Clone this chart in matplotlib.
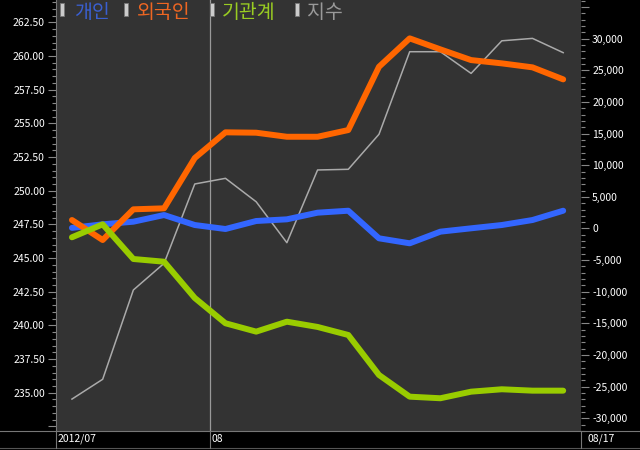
import matplotlib
matplotlib.use("Agg")
import matplotlib.pyplot as plt
import matplotlib.patches as mpatches
from matplotlib.ticker import MultipleLocator, FuncFormatter

plt.rcParams['font.family'] = ['Noto Sans CJK KR', 'DejaVu Sans']

# 2012/07/25 ~ 2012/08/17 (trading days)
n_days = 17
kospi = [234.53, 236.0, 242.63, 244.61, 250.5, 250.92, 249.18, 246.14, 251.54,
         251.59, 254.19, 260.32, 260.32, 258.71, 261.13, 261.31, 260.25]
retail = [100, 660, 1075, 2130, 550, -80, 1185, 1450, 2500,
          2810, -1550, -2340, -500, 30, 550, 1340, 2810]
foreign = [1340, -1820, 3030, 3190, 11140, 15200, 15140, 14500, 14500,
           15560, 25560, 30050, 28310, 26620, 26100, 25470, 23570]
inst = [-1390, 660, -4820, -5250, -10980, -14980, -16300, -14730, -15560,
        -16830, -23150, -26580, -26830, -25790, -25410, -25630, -25630]

legend_names = ['개인', '외국인', '기관계', '지수']
line_colors = ['#3366ff', '#ff6600', '#99cc00', '#aaaaaa']
text_colors = ['#3a5fd0', '#ee6622', '#99cc22', '#999999']
month_labels = ['2012/07', '08', '08/17']

W, H = 640, 450
fig = plt.figure(figsize=(6.4, 4.5), dpi=100, facecolor='black')
left, right, bottom = 56, 581, 431
ax = fig.add_axes([left / W, (H - bottom) / H, (right - left) / W, bottom / H])
ax.set_facecolor('#333333')
ax2 = ax.twinx()

x = list(range(n_days))
ax.plot(x, kospi, color=line_colors[3], lw=1.1, zorder=2)
for s, c in zip([retail, foreign, inst], line_colors[:3]):
    ax2.plot(x, s, color=c, lw=4.3, solid_capstyle='round', solid_joinstyle='round')

ax.axvline(4.5, color='#999999', lw=0.9, zorder=1)

ax.set_xlim(-0.52, 16.58)
ax.set_ylim(232.16, 264.16)
ax2.set_ylim(-32006, 36115)
ax.set_xticks([])

ax.yaxis.set_major_locator(MultipleLocator(2.5))
ax.yaxis.set_minor_locator(MultipleLocator(0.5))
ax.yaxis.set_major_formatter(FuncFormatter(lambda v, p: f'{v:.2f}' if 234 < v < 263 else ''))
ax2.yaxis.set_major_locator(MultipleLocator(5000))
ax2.yaxis.set_minor_locator(MultipleLocator(1000))
ax2.yaxis.set_major_formatter(FuncFormatter(
    lambda v, p: (f'{int(v):,}' if -31000 < v < 31000 else '')))

for a in (ax, ax2):
    for sp in a.spines.values():
        sp.set_visible(False)
    a.tick_params(axis='y', colors='#888888', labelcolor='white', labelsize=7.5,
                  length=6, width=0.8, pad=2)
    a.tick_params(axis='y', which='minor', colors='#888888', length=3, width=0.8)
ax.spines['left'].set_visible(True)
ax.spines['left'].set_color('#777777')

# legend across the top
lx = [60, 124, 210, 295]
tx = [74, 137, 222, 307]
for i in range(4):
    fig.patches.append(mpatches.Rectangle(((lx[i]) / W, (H - 16) / H), 4 / W, 13 / H,
                                          transform=fig.transFigure, facecolor='#cccccc',
                                          edgecolor='#777777', lw=0.6))
    fig.text(tx[i] / W, (H - 13) / H, legend_names[i], color=text_colors[i],
             fontsize=14, fontweight='light', va='center', ha='left')

# bottom date bar
fig.add_artist(plt.Line2D([0, 1], [(H - bottom) / H] * 2, color='#777777', lw=0.8,
                          transform=fig.transFigure))
fig.add_artist(plt.Line2D([0, 1], [(H - 448) / H] * 2, color='#555555', lw=0.8,
                          transform=fig.transFigure))
for px in (left, 210, right):
    fig.add_artist(plt.Line2D([px / W] * 2, [(H - 448) / H, (H - bottom) / H],
                              color='#777777', lw=0.8, transform=fig.transFigure))
for px, lab in zip((58, 212, 588), month_labels):
    fig.text(px / W, (H - 439) / H, lab, color='white', fontsize=7.5, va='center', ha='left')

fig.savefig('out.png', dpi=100, facecolor='black')
